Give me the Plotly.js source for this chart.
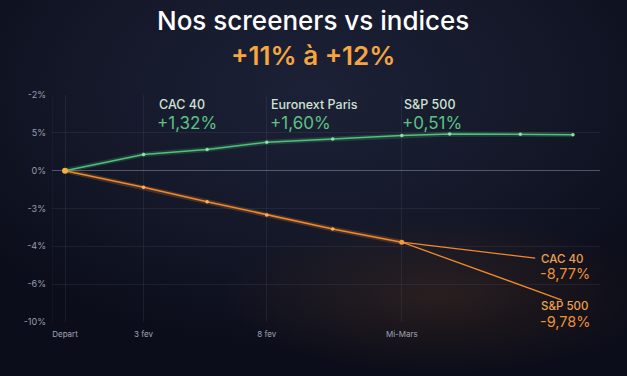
<!DOCTYPE html>
<html><head><meta charset="utf-8">
<script src="https://cdn.plot.ly/plotly-3.0.1.min.js"></script>
<style>
html,body{margin:0;padding:0;width:627px;height:376px;overflow:hidden;}
body{background:
 radial-gradient(ellipse 220px 80px at 440px 295px, rgba(110,65,30,0.28), rgba(110,65,30,0) 100%),
 radial-gradient(ellipse 420px 260px at 313px 90px, #1d2137 0%, #141829 55%, #0b0d1a 100%);}
#chart{width:627px;height:376px;}
</style></head>
<body><div id="chart"></div>
<script>
// x positions (arbitrary time scale) and tick labels
const xTickVals = [0, 1.0, 2.57, 4.29];
const xTickText = ['Depart', '3 fev', '8 fev', 'Mi-Mars'];
// y axis: evenly spaced grid with the labels shown in the picture
const yTickVals = [2, 1, 0, -1, -2, -3, -4];
const yTickText = ['-2%', '5%', '0%', '-3%', '-4%', '-6%', '-10%'];

const greenX = [0, 1.0, 1.81, 2.57, 3.41, 4.29, 4.9, 5.8, 6.47];
const greenY = [0, 0.43, 0.56, 0.75, 0.84, 0.93, 0.97, 0.96, 0.95];

const orangeX = [0, 1.0, 1.81, 2.57, 3.41, 4.29];
const orangeY = [0, -0.44, -0.82, -1.17, -1.54, -1.89];
const cacEndX = [4.29, 5.99];
const cacEndY = [-1.89, -2.31];
const spEndX = [4.29, 6.33];
const spEndY = [-1.89, -3.42];

const green = '#4fc27a', orange = '#f08a2c';
const traces = [
 {x: greenX, y: greenY, mode: 'lines', line: {color: 'rgba(79,194,122,0.2)', width: 5}, hoverinfo: 'skip'},
 {x: orangeX, y: orangeY, mode: 'lines', line: {color: 'rgba(240,138,44,0.22)', width: 5}, hoverinfo: 'skip'},
 {x: greenX, y: greenY, mode: 'lines+markers', line: {color: green, width: 1.5}, marker: {size: 3.5, color: '#8fe0a8'}},
 {x: orangeX, y: orangeY, mode: 'lines+markers', line: {color: orange, width: 1.5}, marker: {size: 3.5, color: '#ffb060'}},
 {x: cacEndX, y: cacEndY, mode: 'lines', line: {color: orange, width: 1.3}},
 {x: spEndX, y: spEndY, mode: 'lines', line: {color: orange, width: 1.3}},
 {x: [0], y: [0], mode: 'markers', marker: {size: 6, color: '#f4b040'}},
 {x: [4.29], y: [-1.89], mode: 'markers', marker: {size: 5, color: '#f29a40'}}
];

const F = 'Inter, "Open Sans", sans-serif';
function ann(text, x, y, size, color, weight){
  return {text: text, x: x, y: y, xref: 'x', yref: 'y', showarrow: false, xanchor: 'left', yanchor: 'middle',
    font: {family: F, size: size, color: color, weight: weight||400}};
}
const titleX = (313 - 52) / 548;
const annotations = [
 {text: 'Nos screeners vs indices', x: titleX, y: 1, xref: 'paper', yref: 'paper', yshift: 75, showarrow: false,
  xanchor: 'center', yanchor: 'middle', font: {family: F, size: 26, color: '#ffffff', weight: 500}},
 {text: '+11% à +12%', x: titleX, y: 1, xref: 'paper', yref: 'paper', yshift: 40, showarrow: false,
  xanchor: 'center', yanchor: 'middle', font: {family: F, size: 26, color: '#f5a541', weight: 600}},
 ann('CAC 40', 1.17, 1.76, 12.5, '#cfe3d4', 500),
 ann('+1,32%', 1.15, 1.26, 17, '#5cc383'),
 ann('Euronext Paris', 2.6, 1.76, 12.5, '#cfe3d4', 500),
 ann('+1,60%', 2.58, 1.26, 17, '#5cc383'),
 ann('S&P 500', 4.29, 1.76, 12.5, '#cfe3d4', 500),
 ann('+0,51%', 4.27, 1.26, 17, '#5cc383'),
 ann('CAC 40', 6.04, -2.33, 11.5, '#eda050', 500),
 ann('-8,77%', 6.02, -2.71, 14.5, '#ee9038'),
 ann('S&P 500', 6.04, -3.58, 11.5, '#eda050', 500),
 ann('-9,78%', 6.02, -3.98, 14.5, '#ee9038')
];

const layout = {
  width: 627, height: 376,
  margin: {l: 52, r: 27, t: 95, b: 54},
  paper_bgcolor: 'rgba(0,0,0,0)', plot_bgcolor: 'rgba(0,0,0,0)',
  showlegend: false,
  xaxis: {range: [-0.166, 6.815], tickvals: xTickVals, ticktext: xTickText, showgrid: true,
    gridcolor: 'rgba(120,130,160,0.13)', zeroline: false, showline: false, ticks: '',
    tickfont: {family: F, size: 8, color: '#a0a4b4'}, ticklabelstandoff: 6, fixedrange: true},
  yaxis: {range: [-4, 2], tickvals: yTickVals, ticktext: yTickText, showgrid: true,
    gridcolor: 'rgba(120,130,160,0.13)', zeroline: true, zerolinecolor: 'rgba(160,165,185,0.45)', zerolinewidth: 1,
    showline: false, ticks: '', tickfont: {family: F, size: 9, color: '#9a9eb0'}, ticklabelstandoff: 5, fixedrange: true},
  shapes: [
    {type: 'line', xref: 'x', yref: 'paper', x0: -0.166, x1: -0.166, y0: 0, y1: 1, line: {color: 'rgba(120,130,160,0.13)', width: 1}}
  ],
  annotations: annotations
};
Plotly.newPlot('chart', traces, layout, {displayModeBar: false, staticPlot: true});
</script></body></html>
